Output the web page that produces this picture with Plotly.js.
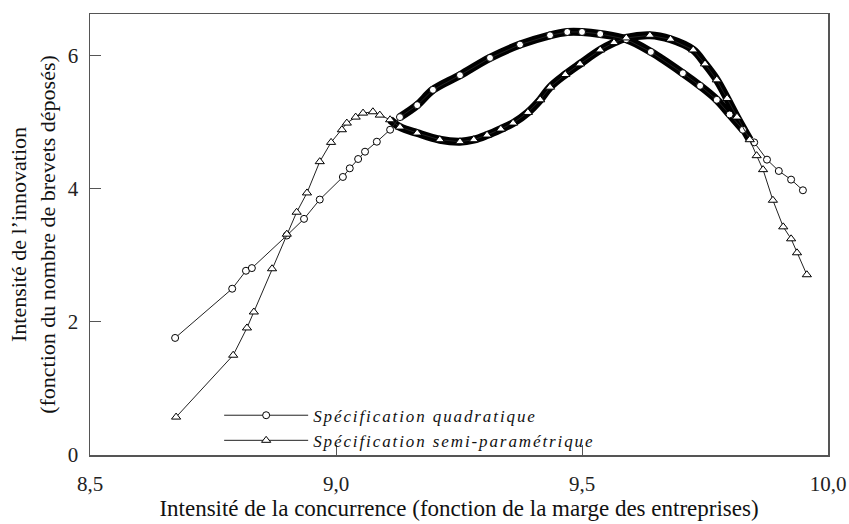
<!DOCTYPE html>
<html>
<head>
<meta charset="utf-8">
<script src="https://cdn.plot.ly/plotly-3.0.1.min.js"></script>
<style>
html,body{margin:0;padding:0;background:#fff;}
.legendtext{letter-spacing:1.9px;}
</style>
</head>
<body>
<div id="chart" style="width:849px;height:524px;"></div>
<script>
// Quadratic specification (circles)
const quadX = [8.673, 8.789, 8.817, 8.829, 8.900, 8.935, 8.967, 9.014, 9.028, 9.045, 9.059, 9.083, 9.110, 9.130, 9.165, 9.197, 9.252, 9.313, 9.374, 9.435, 9.470, 9.500, 9.537, 9.590, 9.640, 9.705, 9.740, 9.774, 9.800, 9.827, 9.850, 9.876, 9.900, 9.925, 9.949];
const quadY = [1.76, 2.50, 2.77, 2.81, 3.30, 3.55, 3.84, 4.18, 4.31, 4.45, 4.56, 4.71, 4.89, 5.08, 5.26, 5.49, 5.71, 5.97, 6.17, 6.31, 6.36, 6.36, 6.33, 6.25, 6.06, 5.74, 5.55, 5.34, 5.12, 4.89, 4.70, 4.44, 4.27, 4.14, 3.98];
// Semi-parametric specification (triangles)
const semiX = [8.675, 8.791, 8.819, 8.833, 8.870, 8.900, 8.920, 8.941, 8.967, 8.990, 9.012, 9.022, 9.040, 9.055, 9.075, 9.089, 9.110, 9.130, 9.165, 9.211, 9.252, 9.280, 9.307, 9.335, 9.360, 9.390, 9.415, 9.435, 9.466, 9.496, 9.537, 9.565, 9.590, 9.638, 9.680, 9.726, 9.750, 9.774, 9.795, 9.815, 9.841, 9.855, 9.868, 9.888, 9.909, 9.925, 9.937, 9.957];
const semiY = [0.57, 1.50, 1.91, 2.15, 2.80, 3.32, 3.65, 3.94, 4.41, 4.70, 4.89, 4.99, 5.08, 5.14, 5.16, 5.11, 5.04, 4.93, 4.84, 4.74, 4.71, 4.74, 4.81, 4.90, 4.99, 5.15, 5.34, 5.53, 5.72, 5.88, 6.09, 6.20, 6.27, 6.31, 6.25, 6.09, 5.88, 5.64, 5.36, 5.08, 4.74, 4.50, 4.29, 3.83, 3.43, 3.25, 3.04, 2.71];
// Tick labels
const xTickVals = [8.5, 9.0, 9.5, 10.0];
const xTickText = ["8,5", "9,0", "9,5", "10,0"];
const yTickVals = [0, 2, 4, 6];
const yTickText = ["0", "2", "4", "6"];
const seriesNames = ["Spécification quadratique", "Spécification semi-paramétrique"];

function subset(xs, ys, lo, hi) {
  const ox = [], oy = [];
  xs.forEach((v, i) => { if (v >= lo && v <= hi) { ox.push(v); oy.push(ys[i]); } });
  return {x: ox, y: oy};
}
const quadDense = subset(quadX, quadY, 9.12, 9.84);
const semiDense = subset(semiX, semiY, 9.10, 9.845);

const serif = "Liberation Serif, Times New Roman, serif";
const traces = [
  {x: quadDense.x, y: quadDense.y, mode: "lines", line: {color: "#000", width: 8, shape: "spline"}, showlegend: false, hoverinfo: "skip"},
  {x: semiDense.x, y: semiDense.y, mode: "lines", line: {color: "#000", width: 8, shape: "spline"}, showlegend: false, hoverinfo: "skip"},
  {x: quadX, y: quadY, name: seriesNames[0], mode: "lines+markers", line: {color: "#222", width: 1},
   marker: {symbol: "circle", size: 7, color: "#fff", line: {color: "#000", width: 1}}},
  {x: semiX, y: semiY, name: seriesNames[1], mode: "lines+markers", line: {color: "#222", width: 1},
   marker: {symbol: "triangle-up", size: 8, color: "#fff", line: {color: "#000", width: 1}}}
];

const layout = {
  width: 849, height: 524,
  margin: {l: 90, r: 21, t: 14, b: 69},
  paper_bgcolor: "#fff", plot_bgcolor: "#fff",
  font: {family: serif, color: "#222", size: 20},
  showlegend: true,
  legend: {x: 0.175, y: 0.13, xanchor: "left", yanchor: "top", bgcolor: "rgba(0,0,0,0)",
           font: {family: serif, size: 17, style: "italic", color: "#111"}, tracegroupgap: 0, itemwidth: 84},
  xaxis: {range: [8.5, 10.0], tickvals: xTickVals, ticktext: xTickText, ticks: "inside", ticklen: 10,
          tickcolor: "#555", showline: true, mirror: true, linecolor: "#555", linewidth: 1.5,
          showgrid: false, zeroline: false, ticklabelstandoff: 9,
          tickfont: {family: serif, size: 21, color: "#222"},
          title: {text: "Intensité de la concurrence (fonction de la marge des entreprises)", standoff: 3,
                  font: {family: serif, size: 23, color: "#111"}}},
  yaxis: {range: [0, 6.63], tickvals: yTickVals, ticktext: yTickText, ticks: "inside", ticklen: 11,
          tickcolor: "#555", showline: true, mirror: true, linecolor: "#555", linewidth: 1.5,
          showgrid: false, zeroline: false, ticklabelstandoff: 6,
          tickfont: {family: serif, size: 21, color: "#222"},
          title: {text: "Intensité de l’innovation<br>(fonction du nombre de brevets déposés)", standoff: 6,
                  font: {family: serif, size: 22, color: "#111"}}}
};

Plotly.newPlot("chart", traces, layout, {displayModeBar: false, staticPlot: true});
</script>
</body>
</html>
